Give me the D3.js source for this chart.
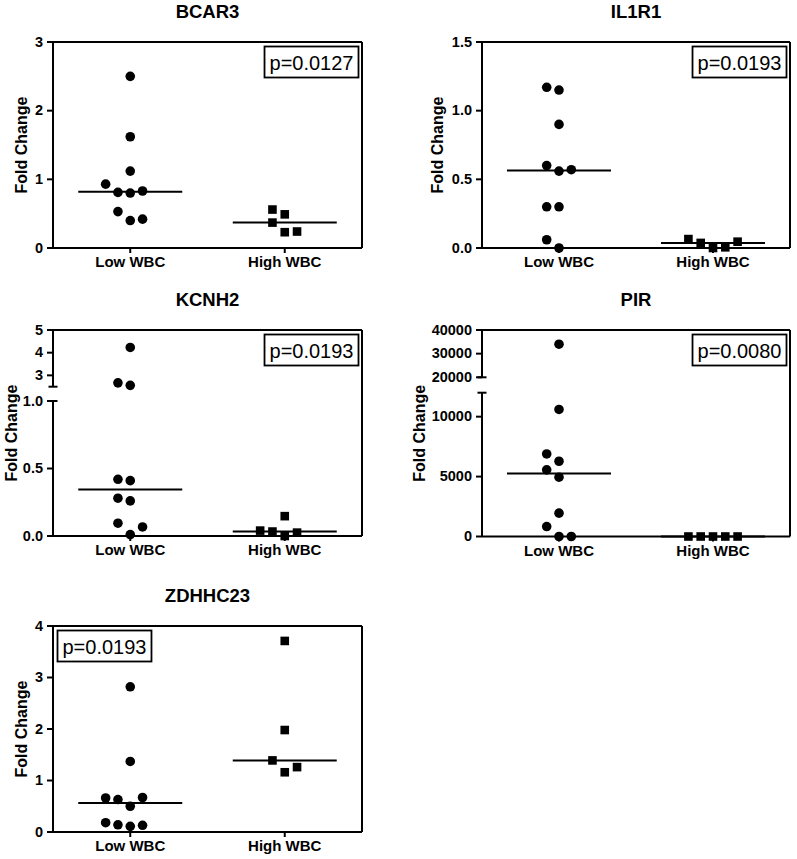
<!DOCTYPE html>
<html>
<head>
<meta charset="utf-8">
<script src="https://cdn.jsdelivr.net/npm/d3@7"></script>
<style>
  body { margin: 0; background: #fff; }
  svg { display: block; }
  text { font-family: Arial, "Liberation Sans", sans-serif; }
</style>
</head>
<body>
<svg id="chart" width="797" height="859"></svg>
<script>
// ---------------- data ----------------
const groups = ["Low WBC", "High WBC"];

const bcar3Low  = [0.40, 0.53, 0.42, 0.80, 0.81, 0.83, 0.93, 1.12, 1.62, 2.50];
const bcar3High = [0.23, 0.37, 0.24, 0.49, 0.56];
const bcar3Ticks = [0, 1, 2, 3];

const il1r1Low  = [0.00, 0.06, 0.30, 0.30, 0.56, 0.60, 0.57, 0.90, 1.15, 1.17];
const il1r1High = [0.000, 0.037, 0.005, 0.065, 0.046];
const il1r1Ticks = [0, 0.5, 1.0, 1.5];

const kcnh2Low  = [0.01, 0.095, 0.067, 0.26, 0.28, 0.41, 0.42, 2.56, 2.67, 4.23];
const kcnh2High = [0.000, 0.033, 0.025, 0.040, 0.147];
const kcnh2TicksLower = [0, 0.5, 1.0];
const kcnh2TicksUpper = [3, 4, 5];

const pirLow  = [0, 830, 0, 1950, 4950, 6280, 6890, 5560, 10600, 34000];
const pirHigh = [0, 0, 0, 0, 0];
const pirTicksLower = [0, 5000, 10000];
const pirTicksUpper = [20000, 30000, 40000];

const zdhhc23Low  = [0.11, 0.14, 0.13, 0.18, 0.50, 0.63, 0.67, 0.66, 1.37, 2.82];
const zdhhc23High = [1.16, 1.39, 1.26, 1.98, 3.71];
const zdhhc23Ticks = [0, 1, 2, 3, 4];

const titles = ["BCAR3", "IL1R1", "KCNH2", "PIR", "ZDHHC23"];
const pValues = ["p=0.0127", "p=0.0193", "p=0.0193", "p=0.0080", "p=0.0193"];

// ---------------- layout ----------------
const fInt = d3.format("d"), f1 = d3.format(".1f");
const panels = [
  { title: titles[0], low: bcar3Low, high: bcar3High, p: pValues[0], pSide: "right",
    x0: 53, x1: 362, top: 42, bottom: 248, yTitleX: 26.5,
    segs: [{ domain: [0, 3], range: [248, 42], ticks: bcar3Ticks, fmt: fInt }] },
  { title: titles[1], low: il1r1Low, high: il1r1High, p: pValues[1], pSide: "right",
    x0: 482, x1: 790, top: 42, bottom: 248, yTitleX: 442.5,
    segs: [{ domain: [0, 1.5], range: [248, 42], ticks: il1r1Ticks, fmt: f1 }] },
  { title: titles[2], low: kcnh2Low, high: kcnh2High, p: pValues[2], pSide: "right",
    x0: 53, x1: 362, top: 330, bottom: 536, yTitleX: 17,
    segs: [{ domain: [0, 1.0], range: [536, 401], ticks: kcnh2TicksLower, fmt: f1 },
           { domain: [2.5, 5], range: [386.7, 330], ticks: kcnh2TicksUpper, fmt: fInt }] },
  { title: titles[3], low: pirLow, high: pirHigh, p: pValues[3], pSide: "right",
    x0: 482, x1: 790, top: 330, bottom: 536.5, yTitleX: 424.5,
    segs: [{ domain: [0, 12000], range: [536.5, 392.7], ticks: pirTicksLower, fmt: fInt },
           { domain: [20000, 40000], range: [377.3, 330], ticks: pirTicksUpper, fmt: fInt }] },
  { title: titles[4], low: zdhhc23Low, high: zdhhc23High, p: pValues[4], pSide: "left",
    x0: 53, x1: 362, top: 626, bottom: 832, yTitleX: 26.7,
    segs: [{ domain: [0, 4], range: [832, 626], ticks: zdhhc23Ticks, fmt: fInt }] }
];

const SLOT = 12.3, MINDIST = 12.2, R = 4.8, SQ = 8.6, HALF = 52;
const tryOrder = [0, -1, 1, -2, 2, -3, 3, -4, 4];

const svg = d3.select("#chart");

panels.forEach(P => {
  const g = svg.append("g");
  const x = d3.scalePoint().domain(groups).range([P.x0, P.x1]).padding(0.5);
  const segs = P.segs.map(s => Object.assign({}, s, { scale: d3.scaleLinear().domain(s.domain).range(s.range) }));
  const y = v => (segs.length > 1 && v > segs[0].domain[1]) ? segs[1].scale(v) : segs[0].scale(v);

  // frame (top & right)
  g.append("line").attr("x1", P.x0).attr("x2", P.x1).attr("y1", P.top).attr("y2", P.top)
    .attr("stroke", "#000").attr("stroke-width", 2);
  g.append("line").attr("x1", P.x1).attr("x2", P.x1).attr("y1", P.top).attr("y2", P.bottom)
    .attr("stroke", "#000").attr("stroke-width", 2);

  // y axis segments
  segs.forEach(s => {
    const ax = g.append("g").attr("transform", `translate(${P.x0},0)`)
      .call(d3.axisLeft(s.scale).tickValues(s.ticks).tickFormat(s.fmt)
        .tickSize(6).tickSizeOuter(0).tickPadding(4).offset(0));
    ax.attr("font-size", null).attr("font-family", null);
    ax.select(".domain").attr("stroke-width", 2);
    ax.selectAll(".tick line").attr("stroke-width", 2);
    ax.selectAll(".tick text").attr("font-size", 14.5).attr("font-weight", "bold").attr("fill", "#000");
  });
  // break caps
  if (segs.length > 1) {
    [segs[0].range[1], segs[1].range[0]].forEach(yy => {
      g.append("line").attr("x1", P.x0 - 4.5).attr("x2", P.x0 + 4.5).attr("y1", yy).attr("y2", yy)
        .attr("stroke", "#000").attr("stroke-width", 2);
    });
  }

  // x axis
  const xa = g.append("g").attr("transform", `translate(0,${P.bottom})`)
    .call(d3.axisBottom(x).tickSize(5).tickSizeOuter(0).tickPadding(3.5).offset(0));
  xa.attr("font-size", null).attr("font-family", null);
  xa.select(".domain").attr("stroke-width", 2);
  xa.selectAll(".tick line").attr("stroke-width", 2);
  xa.selectAll(".tick text").attr("font-size", 15).attr("font-weight", "bold").attr("fill", "#000");

  // y title
  g.append("text")
    .attr("transform", `translate(${P.yTitleX},${(P.top + P.bottom) / 2}) rotate(-90)`)
    .attr("text-anchor", "middle").attr("font-size", 16).attr("font-weight", "bold")
    .text("Fold Change");

  // title
  g.append("text").attr("x", (P.x0 + P.x1) / 2).attr("y", P.top - 24.5)
    .attr("text-anchor", "middle").attr("font-size", 18.5).attr("font-weight", "bold")
    .text(P.title);

  // points with non-overlapping placement
  const series = [P.low, P.high];
  series.forEach((vals, gi) => {
    const cx = x(groups[gi]);
    const placed = [];
    vals.forEach(v => {
      const py = y(v);
      for (const k of tryOrder) {
        const px = cx + k * SLOT;
        if (placed.every(p => Math.hypot(p.x - px, p.y - py) >= MINDIST)) {
          placed.push({ x: px, y: py });
          break;
        }
      }
    });
    if (gi === 0) {
      g.selectAll(null).data(placed).join("circle")
        .attr("cx", d => d.x).attr("cy", d => d.y).attr("r", R).attr("fill", "#000");
    } else {
      g.selectAll(null).data(placed).join("rect")
        .attr("x", d => d.x - SQ / 2).attr("y", d => d.y - SQ / 2)
        .attr("width", SQ).attr("height", SQ).attr("fill", "#000");
    }
    const med = d3.median(vals);
    g.append("line").attr("x1", cx - HALF).attr("x2", cx + HALF)
      .attr("y1", y(med)).attr("y2", y(med)).attr("stroke", "#000").attr("stroke-width", 2);
  });

  // p-value box
  const pt = g.append("text").attr("font-size", 20).text(P.p);
  const tw = pt.node().getComputedTextLength();
  const bw = tw + 10, bh = 31;
  const bx = P.pSide === "right" ? P.x1 - 3.5 - bw : P.x0 + 4.5;
  const by = P.top + 4.5;
  pt.attr("x", bx + 5).attr("y", by + 23.3);
  g.insert("rect", () => pt.node())
    .attr("x", bx).attr("y", by).attr("width", bw).attr("height", bh)
    .attr("fill", "#fff").attr("stroke", "#000").attr("stroke-width", 1.8);
});
</script>
</body>
</html>
